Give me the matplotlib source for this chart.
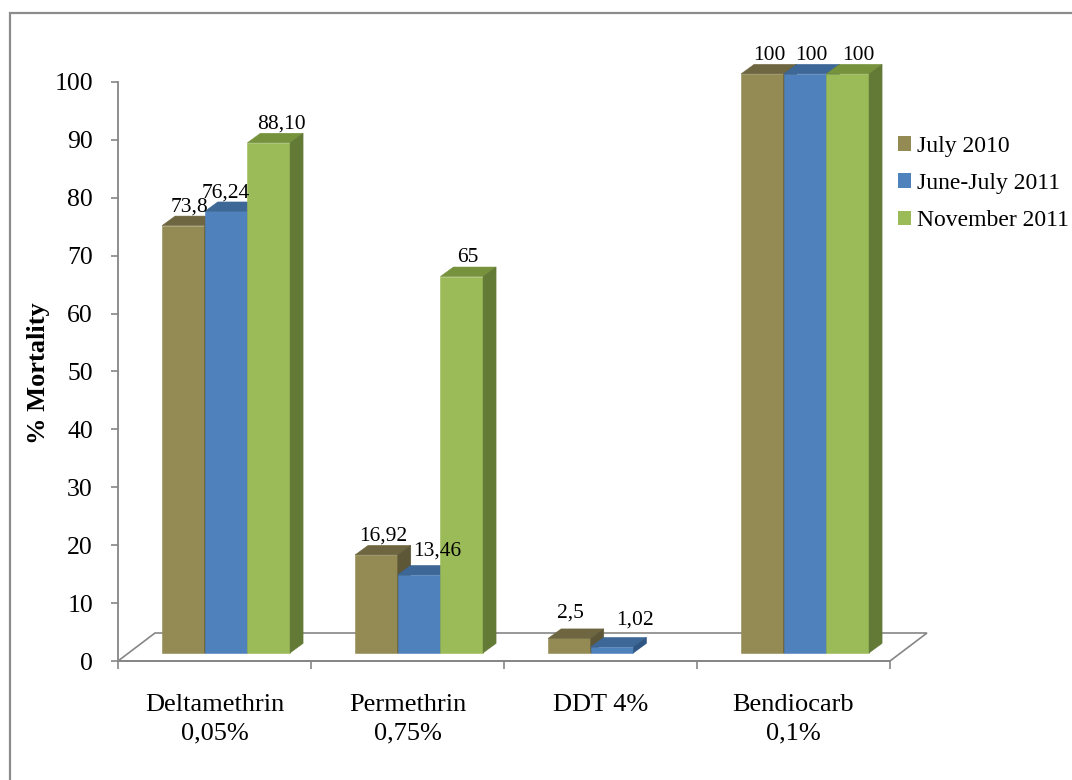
import numpy as np
import matplotlib.pyplot as plt
from matplotlib.patches import Polygon, Rectangle, Patch

plt.rcParams['font.family'] = 'Liberation Serif'

# Mortality (%) per insecticide and survey period, as printed on the bars
categories = ['Deltamethrin\n0,05%', 'Permethrin\n0,75%', 'DDT 4%', 'Bendiocarb\n0,1%']
series_names = ['July 2010', 'June-July 2011', 'November 2011']
july_2010 = ['73,8', '16,92', '2,5', '100']
june_july_2011 = ['76,24', '13,46', '1,02', '100']
november_2011 = ['88,10', '65', None, '100']
yticks = np.arange(0, 101, 10)

series = [july_2010, june_july_2011, november_2011]

front = ['#948A54', '#4F81BD', '#9BBB59']
top = ['#6E6640', '#3C6797', '#76923C']
side = ['#5E5737', '#2F5583', '#637A37']
grey = '#868686'

# pixel scale of the plot: one category / one percent
PX_X = 193.0
PX_Y = 5.79

fig = plt.figure(figsize=(10.72, 7.8), dpi=100)
ax = fig.add_axes([0, 0, 1, 1])
ax.set_xlim(-118 / PX_X, (1072 - 118) / PX_X)
ax.set_ylim(-(780 - 661) / PX_Y, 661 / PX_Y)
ax.patch.set_visible(False)

# 3d floor
fdx, fdy = 37 / PX_X, 28 / PX_Y
ax.add_patch(Polygon([(0, 0), (4, 0), (4 + fdx, fdy), (fdx, fdy)], closed=True,
                     fill=False, edgecolor=grey, lw=1.2, zorder=1))

bw = 0.221          # bar width in categories
lift = 1.4          # bars stand a bit behind the front edge
shift = 0.06
ddx, ddy = 13 / PX_X, 9.5 / PX_Y

# label nudges in pixels (dx, dy)
nudge = {(0, 1): (-7, 0), (0, 2): (6, 0), (1, 1): (12, -5),
         (2, 0): (-5, -7), (2, 1): (16, -8), (3, 2): (4, 0)}

for g in range(len(categories)):
    for s in range(len(series)):
        lab = series[s][g]
        if lab is None:
            continue
        v = float(lab.replace(',', '.'))
        left = g + 0.5 + shift - 1.5 * bw + s * bw
        z = 3 + g * 10 + s * 3
        ax.bar(left, v, width=bw, bottom=lift, align='edge', color=front[s],
               edgecolor=front[s], lw=0.4, zorder=z)
        t = v + lift
        ax.add_patch(Polygon([(left, t), (left + bw, t), (left + bw + ddx, t + ddy),
                              (left + ddx, t + ddy)], facecolor=top[s],
                             edgecolor=top[s], lw=0.4, zorder=z + 1))
        ax.add_patch(Polygon([(left + bw, lift), (left + bw, t), (left + bw + ddx, t + ddy),
                              (left + bw + ddx, lift + ddy)], facecolor=side[s],
                             edgecolor=side[s], lw=0.4, zorder=z + 1))
        nx, ny = nudge.get((g, s), (0, 0))
        ax.annotate(lab, (left + bw / 2 + ddx / 2, t + ddy),
                    xytext=(nx / 1.389, 3.5 - ny / 1.389), textcoords='offset points',
                    ha='center', va='baseline', fontsize=15.5, zorder=50)

for k in ['top', 'right']:
    ax.spines[k].set_visible(False)
for k in ['left', 'bottom']:
    ax.spines[k].set_position(('data', 0))
    ax.spines[k].set_color(grey)
    ax.spines[k].set_linewidth(1.3)
ax.spines['left'].set_bounds(0, 100)
ax.spines['bottom'].set_bounds(0, 4)

ax.set_yticks(yticks)
ax.tick_params(axis='y', direction='out', length=5, width=1.2, color=grey,
               pad=13, labelsize=18.5)
ax.set_xticks(np.arange(5))
ax.set_xticklabels([])
ax.tick_params(axis='x', which='major', direction='out', length=5.8, width=1.2, color=grey)
ax.set_xticks(np.arange(4) + 0.5, minor=True)
ax.set_xticklabels(categories, minor=True, fontsize=19, linespacing=1.4)
ax.tick_params(axis='x', which='minor', length=0, pad=23.5)

ax.text(-80 / PX_X, (661 - 373) / PX_Y, '% Mortality', rotation=90, fontsize=19,
        fontweight='bold', ha='center', va='center')

handles = [Patch(facecolor=c) for c in front]
ax.legend(handles, series_names, loc='upper left', bbox_to_anchor=(898 / 1072, 1 - 136 / 780),
          bbox_transform=fig.transFigure, frameon=False, fontsize=17,
          handlelength=0.57, handleheight=0.57, handletextpad=0.25, labelspacing=0.68,
          borderpad=0, borderaxespad=0)

# chart border
fig.add_artist(Rectangle((10 / 1072, -0.05), 1.1, 1.05 - 13 / 780, transform=fig.transFigure,
                         fill=False, edgecolor='#8c8c8c', lw=1.6))

fig.savefig('out.png', dpi=100)
